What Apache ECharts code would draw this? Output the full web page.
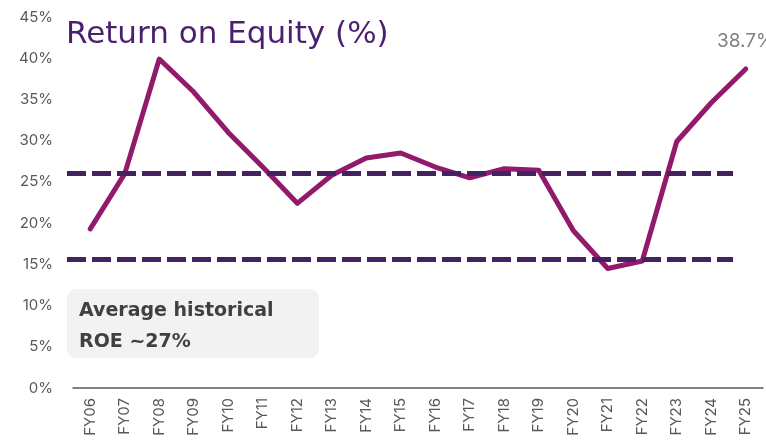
<!DOCTYPE html>
<html>
<head>
<meta charset="utf-8">
<script src="https://cdn.jsdelivr.net/npm/echarts@6/dist/echarts.min.js"></script>
<style>
  html, body { margin: 0; padding: 0; background: #fff; }
  #chart { width: 766px; height: 441px; }
</style>
</head>
<body>
<div id="chart"></div>
<script>
const years = ["FY06", "FY07", "FY08", "FY09", "FY10", "FY11", "FY12", "FY13", "FY14", "FY15",
  "FY16", "FY17", "FY18", "FY19", "FY20", "FY21", "FY22", "FY23", "FY24", "FY25"];
const roe = [19.3, 26.0, 39.9, 35.9, 31.0, 26.8, 22.4, 25.8, 27.9, 28.5,
  26.8, 25.5, 26.6, 26.4, 19.1, 14.5, 15.4, 29.9, 34.6, 38.7];
const bandTop = 26.0;
const bandBottom = 15.6;

const chart = echarts.init(document.getElementById("chart"));
const font = "Inter, 'Liberation Sans', sans-serif";
const wide = "'DejaVu Sans', sans-serif";

function dashed(v) {
  return [{ yAxis: v, x: 67 }, { yAxis: v, x: 733 }];
}

// only the last point carries a value label
const lineData = roe.map((v, i) => i === roe.length - 1
  ? { value: v, label: { show: true } }
  : v);

chart.setOption({
  animation: false,
  grid: { left: 73, right: 3, top: 17, bottom: 53 },
  title: {
    text: "Return on Equity (%)",
    left: 61, top: 14,
    textStyle: { color: "#4b1f6f", fontSize: 31, fontWeight: "normal", fontFamily: wide }
  },
  xAxis: {
    type: "category",
    data: years,
    axisLine: { lineStyle: { color: "#595959", width: 1.5 } },
    axisTick: { show: false },
    axisLabel: { rotate: 90, color: "#595959", fontSize: 15, fontFamily: font, margin: 10 }
  },
  yAxis: {
    type: "value",
    min: 0, max: 45, interval: 5,
    axisLine: { show: false },
    axisTick: { show: false },
    splitLine: { show: false },
    axisLabel: { formatter: "{value}%", color: "#595959", fontSize: 15, fontFamily: font, margin: 20 }
  },
  graphic: [{
    type: "group", left: 67, top: 289,
    children: [
      { type: "rect", shape: { x: 0, y: 0, width: 252, height: 69, r: 9 }, style: { fill: "#f2f2f2" } },
      { type: "text", x: 12, y: 7, style: {
        text: "Average historical\nROE ~27%", fill: "#404040", fontSize: 19, fontWeight: "bold",
        fontFamily: wide, lineHeight: 31 } }
    ]
  }],
  series: [{
    type: "line",
    data: lineData,
    symbol: "circle",
    symbolSize: 1,
    showSymbol: true,
    itemStyle: { color: "rgba(0,0,0,0)" },
    lineStyle: { color: "#921a6c", width: 5, cap: "round", join: "round" },
    label: {
      show: false, position: "top", distance: 18, color: "#7f7f7f", fontSize: 19, fontFamily: font,
      formatter: "{c}%"
    },
    markLine: {
      silent: true,
      symbol: "none",
      label: { show: false },
      lineStyle: { color: "#44215f", width: 5, type: [19, 6], opacity: 1 },
      data: [dashed(bandTop), dashed(bandBottom)]
    },
    z: 1
  }]
});
</script>
</body>
</html>
